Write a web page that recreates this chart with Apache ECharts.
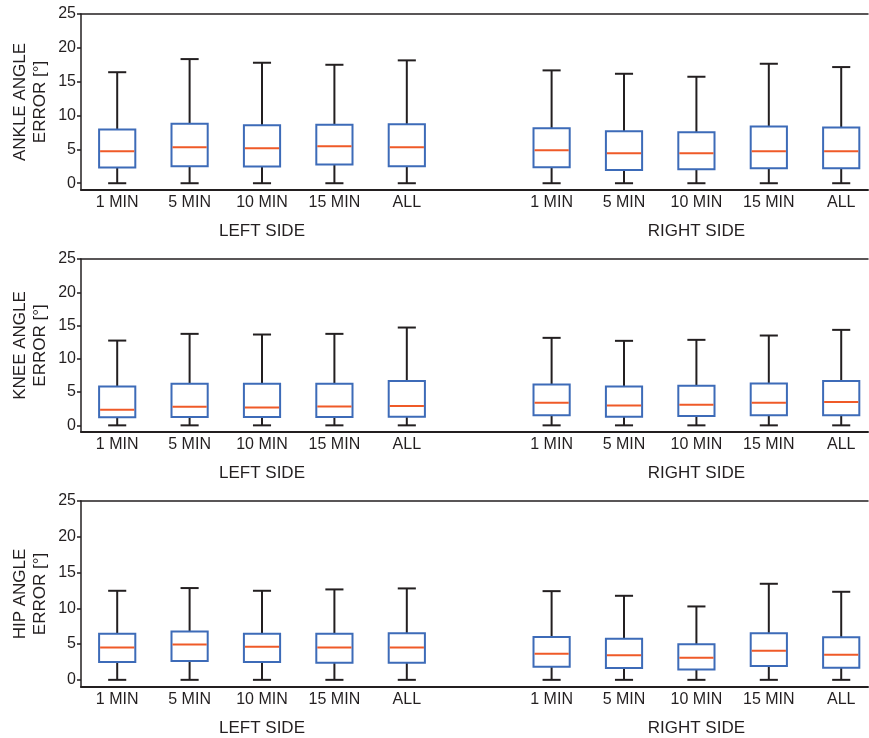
<!DOCTYPE html>
<html>
<head>
<meta charset="utf-8">
<script src="https://cdn.jsdelivr.net/npm/echarts@6/dist/echarts.min.js"></script>
<style>
html,body{margin:0;padding:0;background:#fff;}
#chart{width:869px;height:738px;}
</style>
</head>
<body>
<div id="chart"></div>
<script>
// ---- data (each item: [min, Q1, median, Q3, max]) ----
const categories = ['1 MIN', '5 MIN', '10 MIN', '15 MIN', 'ALL'];
const sides = ['LEFT SIDE', 'RIGHT SIDE'];
const yTicks = [0, 5, 10, 15, 20, 25];
const panelNames = ['ANKLE ANGLE\nERROR [°]', 'KNEE ANGLE\nERROR [°]', 'HIP ANGLE\nERROR [°]'];

const ankleLeft = [
  [0, 2.32, 4.73, 7.94, 16.4],
  [0, 2.51, 5.33, 8.77, 18.34],
  [0, 2.46, 5.18, 8.58, 17.8],
  [0, 2.76, 5.47, 8.63, 17.5],
  [0, 2.51, 5.33, 8.73, 18.15]
];
const ankleRight = [
  [0, 2.37, 4.88, 8.14, 16.67],
  [0, 1.97, 4.44, 7.69, 16.17],
  [0, 2.07, 4.44, 7.54, 15.73],
  [0, 2.22, 4.73, 8.38, 17.65],
  [0, 2.22, 4.73, 8.24, 17.16]
];
const kneeLeft = [
  [0, 1.2, 2.35, 5.85, 12.74],
  [0, 1.25, 2.8, 6.25, 13.75],
  [0, 1.25, 2.7, 6.25, 13.65],
  [0, 1.25, 2.85, 6.25, 13.75],
  [0, 1.3, 2.9, 6.65, 14.7]
];
const kneeRight = [
  [0, 1.5, 3.4, 6.15, 13.15],
  [0, 1.3, 3.0, 5.85, 12.7],
  [0, 1.4, 3.1, 5.95, 12.85],
  [0, 1.5, 3.4, 6.3, 13.5],
  [0, 1.5, 3.5, 6.65, 14.35]
];
const hipLeft = [
  [0, 2.48, 4.53, 6.44, 12.45],
  [0, 2.62, 4.95, 6.77, 12.83],
  [0, 2.48, 4.62, 6.44, 12.45],
  [0, 2.38, 4.53, 6.44, 12.64],
  [0, 2.38, 4.53, 6.53, 12.78]
];
const hipRight = [
  [0, 1.82, 3.64, 6.0, 12.4],
  [0, 1.64, 3.45, 5.74, 11.75],
  [0, 1.45, 3.08, 4.99, 10.26],
  [0, 1.92, 4.06, 6.53, 13.43],
  [0, 1.68, 3.5, 5.97, 12.31]
];

const panels = [[ankleLeft, ankleRight], [kneeLeft, kneeRight], [hipLeft, hipRight]];

// ---- layout / style ----
const FONT = '"Liberation Sans", Arial, Helvetica, sans-serif';
const TXT = '#231f20';
const grids = [
  {left: 81, right: 1, top: 14, height: 176},
  {left: 81, right: 1, top: 259, height: 173},
  {left: 81, right: 1, top: 501, height: 186}
];
const X_MIN = 0.5, X_MAX = 11.37;
// slot positions on the x scale: left side 1..5, right side 7..11
const leftPos = categories.map((c, i) => i + 1);
const rightPos = categories.map((c, i) => i + 7);
const sidePos = [3, 9];
const labelMap = {};
leftPos.forEach((p, i) => labelMap[p] = categories[i]);
rightPos.forEach((p, i) => labelMap[p] = categories[i]);
const sideMap = {};
sidePos.forEach((p, i) => sideMap[p] = sides[i]);

function renderItem(params, api) {
  const x = api.value(0);
  const pMin = api.coord([x, api.value(1)]);
  const pQ1 = api.coord([x, api.value(2)]);
  const pMed = api.coord([x, api.value(3)]);
  const pQ3 = api.coord([x, api.value(4)]);
  const pMax = api.coord([x, api.value(5)]);
  const unit = api.size([1, 0])[0];
  const hb = unit * 0.25;   // half box width
  const hc = unit * 0.125;  // half cap width
  const cx = pMed[0];
  const blk = {stroke: '#231f20', lineWidth: 2};
  return {
    type: 'group',
    children: [
      {type: 'line', shape: {x1: cx, y1: pMin[1], x2: cx, y2: pQ1[1]}, style: blk},
      {type: 'line', shape: {x1: cx, y1: pQ3[1], x2: cx, y2: pMax[1]}, style: blk},
      {type: 'line', shape: {x1: cx - hc, y1: pMin[1], x2: cx + hc, y2: pMin[1]}, style: blk},
      {type: 'line', shape: {x1: cx - hc, y1: pMax[1], x2: cx + hc, y2: pMax[1]}, style: blk},
      {type: 'rect', shape: {x: cx - hb, y: pQ3[1], width: hb * 2, height: pQ1[1] - pQ3[1]},
        style: {fill: '#ffffff', stroke: '#3d6bb8', lineWidth: 2}},
      {type: 'line', shape: {x1: cx - hb + 1, y1: pMed[1], x2: cx + hb - 1, y2: pMed[1]},
        style: {stroke: '#ef5a28', lineWidth: 2}}
    ]
  };
}

const option = {
  backgroundColor: '#ffffff',
  animation: false,
  textStyle: {fontFamily: FONT},
  grid: grids.map(g => Object.assign({outerBoundsMode: 'none', containLabel: false}, g)),
  xAxis: [],
  yAxis: [],
  series: []
};

panels.forEach((pair, gi) => {
  const base = option.xAxis.length;
  // category labels axis
  option.xAxis.push({
    type: 'value', gridIndex: gi, min: X_MIN, max: X_MAX, position: 'bottom',
    axisLine: {show: true, onZero: false, lineStyle: {color: '#231f20', width: 2}},
    axisTick: {show: false},
    splitLine: {show: false},
    axisLabel: {
      customValues: leftPos.concat(rightPos),
      formatter: v => labelMap[v] || '',
      fontSize: 16, color: TXT, fontFamily: FONT, margin: 5
    }
  });
  // side labels axis
  option.xAxis.push({
    type: 'value', gridIndex: gi, min: X_MIN, max: X_MAX, position: 'bottom', offset: 29,
    axisLine: {show: false}, axisTick: {show: false}, splitLine: {show: false},
    axisLabel: {
      customValues: sidePos,
      formatter: v => sideMap[v] || '',
      fontSize: 17, color: TXT, fontFamily: FONT, margin: 4
    }
  });
  // top frame line
  option.xAxis.push({
    type: 'value', gridIndex: gi, min: X_MIN, max: X_MAX, position: 'top',
    axisLine: {show: true, onZero: false, lineStyle: {color: '#231f20', width: 1.5}},
    axisTick: {show: false}, axisLabel: {show: false}, splitLine: {show: false}
  });
  option.yAxis.push({
    type: 'value', gridIndex: gi, min: -1, max: 25,
    name: panelNames[gi], nameLocation: 'middle', nameRotate: 90, nameGap: 31,
    nameMoveOverlap: false,
    nameTextStyle: {fontSize: 17, color: TXT, fontFamily: FONT, lineHeight: 20},
    axisLine: {show: true, onZero: false, lineStyle: {color: '#231f20', width: 1.5}},
    axisTick: {show: true, inside: false, length: 4, customValues: yTicks, lineStyle: {color: '#231f20', width: 1.5}},
    axisLabel: {customValues: yTicks, fontSize: 16, color: TXT, fontFamily: FONT, margin: 5},
    splitLine: {show: false}
  });
  const data = [];
  pair[0].forEach((d, i) => data.push([leftPos[i]].concat(d)));
  pair[1].forEach((d, i) => data.push([rightPos[i]].concat(d)));
  option.series.push({
    type: 'custom', xAxisIndex: base, yAxisIndex: gi,
    renderItem: renderItem,
    encode: {x: 0, y: [1, 2, 3, 4, 5]},
    data: data,
    clip: false
  });
});

const chart = echarts.init(document.getElementById('chart'), null, {renderer: 'canvas'});
chart.setOption(option);
</script>
</body>
</html>
